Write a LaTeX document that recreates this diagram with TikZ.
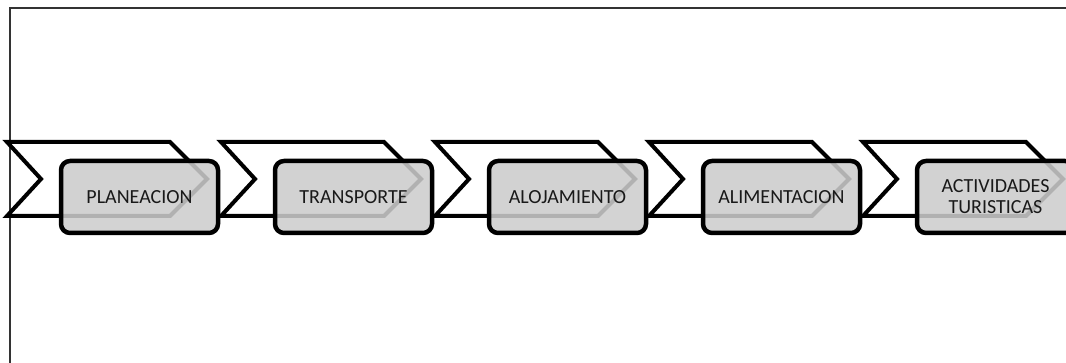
\documentclass[tikz,border=0pt]{standalone}
\usepackage{fontspec}
\setmainfont{Carlito}
\begin{document}
\begin{tikzpicture}[x=1pt,y=-1pt,
  chev/.style={draw=black,line width=4pt,fill=white,line join=miter},
  stepbox/.style={draw=black,line width=4.5pt,fill=black!20,fill opacity=0.87,text opacity=1,draw opacity=1,rounded corners=9pt,minimum width=157pt,minimum height=72pt,inner sep=0pt,font=\fontsize{20}{21}\selectfont,text=black!90,align=center},
  frame/.style={draw=black!80,line width=2pt}]
\useasboundingbox (0,0) rectangle (1066,363);
\clip (0,0) rectangle (1066,363);
\draw[frame] (10,400) -- (10,8) -- (1100,8);
\foreach \i in {0,...,4}{
  \begin{scope}[xshift=\i*214]
    \draw[chev] (7,142) -- (170,142) -- (207,179) -- (170,216) -- (7,216) -- (41,179) -- cycle;
  \end{scope}
}
\node[stepbox] (b1) at (139.5,197) {PLANEACION};
\node[stepbox] (b2) at (353.5,197) {TRANSPORTE};
\node[stepbox] (b3) at (567.5,197) {ALOJAMIENTO};
\node[stepbox] (b4) at (781.5,197) {ALIMENTACION};
\node[stepbox] (b5) at (995.5,197) {ACTIVIDADES\\TURISTICAS};
\end{tikzpicture}
\end{document}
